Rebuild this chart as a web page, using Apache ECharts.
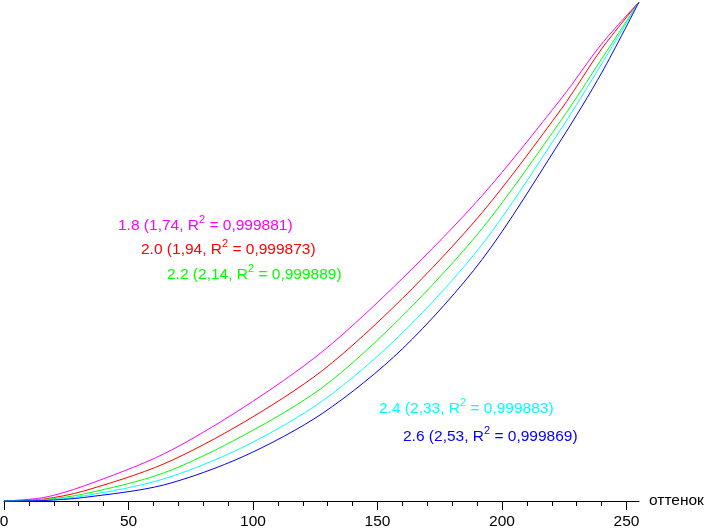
<!DOCTYPE html>
<html>
<head>
<meta charset="utf-8">
<script src="https://cdn.jsdelivr.net/npm/echarts@6/dist/echarts.min.js"></script>
<style>html,body{margin:0;padding:0;background:#fff}#c{width:704px;height:529px}</style>
</head>
<body>
<div id="c"></div>
<script>
// x = shade (оттенок), y = relative brightness, %
const xs   = [0, 16, 32, 64, 96, 128, 160, 192, 224, 240, 255];
const g18  = [0, 0.7, 3.0, 9.4, 18.7, 30.0, 44.6, 61.2, 80.8, 91.6, 100];
const g20  = [0, 0.4, 2.0, 7.4, 15.7, 26.2, 40.6, 57.8, 78.7, 90.6, 100];
const g22  = [0, 0.3, 1.4, 5.6, 13.1, 22.8, 37.1, 54.6, 76.5, 88.6, 100];
const g24  = [0, 0.2, 1.0, 4.4, 10.8, 20.1, 33.7, 51.4, 74.8, 87.6, 100];
const g26  = [0, 0.1, 0.7, 3.2, 8.9, 17.6, 30.5, 48.4, 72.6, 85.8, 100];
const seriesNames = ['1.8', '2.0', '2.2', '2.4', '2.6'];
const fitGamma = ['1,74', '1,94', '2,14', '2,33', '2,53'];
const fitR2 = ['0,999881', '0,999873', '0,999889', '0,999883', '0,999869'];
const majorTicks = [0, 50, 100, 150, 200, 250];
const xName = 'оттенок';

const colors = ['#ff00ff', '#ff0000', '#00ff00', '#00ffff', '#0000ff'];
const values = [g18, g20, g22, g24, g26];
const labelPos = [[118, 224], [141, 248], [167, 273], [379, 407], [403, 435]];

const chart = echarts.init(document.getElementById('c'), null, {renderer: 'canvas'});
const FONT = '"Liberation Sans", Arial, sans-serif';
const FS = 15.5;

const graphics = seriesNames.map((n, i) => ({
  type: 'text',
  x: labelPos[i][0],
  y: labelPos[i][1],
  style: {
    text: '{a|' + n + ' (' + fitGamma[i] + ', R}{s|2}{a| = ' + fitR2[i] + ')}',
    fill: colors[i],
    verticalAlign: 'middle',
    rich: {
      a: {fontSize: FS, fontFamily: FONT, fill: colors[i], lineHeight: 19, verticalAlign: 'bottom'},
      s: {fontSize: 11, fontFamily: FONT, fill: colors[i], lineHeight: 11, verticalAlign: 'top'}
    }
  }
}));

chart.setOption({
  animation: false,
  grid: {left: 4, right: 65, top: 2, bottom: 28, containLabel: false, outerBoundsMode: 'none'},
  xAxis: {
    type: 'value', min: 0, max: 255, interval: 50,
    name: xName, nameLocation: 'end', nameGap: 10,
    nameTextStyle: {color: '#000', fontSize: FS, fontFamily: FONT},
    axisLine: {show: true, lineStyle: {color: '#000', width: 1}},
    axisTick: {show: true, length: 9, lineStyle: {color: '#000'}, customValues: majorTicks},
    minorTick: {show: true, splitNumber: 5, length: 5, lineStyle: {color: '#000'}},
    axisLabel: {color: '#000', fontSize: FS, fontFamily: FONT, margin: 13, customValues: majorTicks},
    splitLine: {show: false}
  },
  yAxis: {
    type: 'value', min: 0, max: 100, show: false, splitLine: {show: false}
  },
  graphic: graphics,
  series: values.map((v, i) => ({
    type: 'line', name: seriesNames[i],
    data: xs.map((x, j) => [x, v[j]]),
    showSymbol: false, symbol: 'none', smooth: 0.3,
    lineStyle: {color: colors[i], width: 1},
    itemStyle: {color: colors[i]}
  }))
});
</script>
</body>
</html>
